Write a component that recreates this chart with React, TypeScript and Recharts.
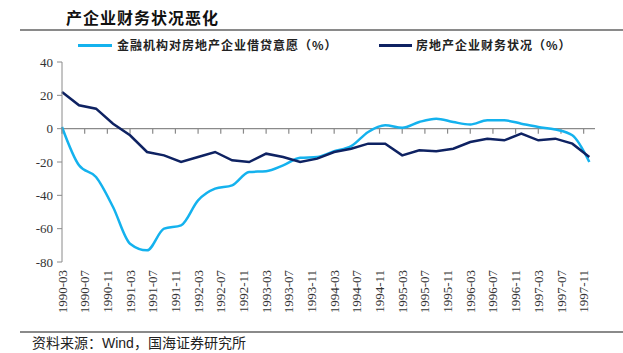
import { LineChart, Line, XAxis, YAxis, ReferenceLine } from 'recharts'

const quarters = [
  '1990-03', '1990-06', '1990-09', '1990-12',
  '1991-03', '1991-06', '1991-09', '1991-12',
  '1992-03', '1992-06', '1992-09', '1992-12',
  '1993-03', '1993-06', '1993-09', '1993-12',
  '1994-03', '1994-06', '1994-09', '1994-12',
  '1995-03', '1995-06', '1995-09', '1995-12',
  '1996-03', '1996-06', '1996-09', '1996-12',
  '1997-03', '1997-06', '1997-09', '1997-12',
]

// 金融机构对房地产企业借贷意愿（%）
const lendingWillingness = [
  1, -22, -29, -47,
  -69, -73, -60, -58,
  -43, -36, -34, -26,
  -25.5, -22, -17.5, -17,
  -13.5, -10.5, -2, 2,
  0.5, 4, 6, 4,
  2.5, 5, 5, 3,
  1, -0.5, -4, -20,
]

// 房地产企业财务状况（%）
const financialCondition = [
  22, 14, 12, 3,
  -4, -14, -16, -20,
  -17, -14, -19, -20,
  -15, -17, -20, -18,
  -14, -12, -9, -9,
  -16, -13, -13.5, -12,
  -8, -6, -7, -3,
  -7, -6, -9, -17,
]

const tickLabels = [
  '1990-03', '1990-07', '1990-11', '1991-03', '1991-07', '1991-11',
  '1992-03', '1992-07', '1992-11', '1993-03', '1993-07', '1993-11',
  '1994-03', '1994-07', '1994-11', '1995-03', '1995-07', '1995-11',
  '1996-03', '1996-07', '1996-11', '1997-03', '1997-07', '1997-11',
]

const yTicks = [-80, -60, -40, -20, 0, 20, 40]

const LIGHT = '#14B2EE'
const DARK = '#0E2262'
const GRAY = '#8a8a8a'
const SERIF = "'Liberation Serif', 'Times New Roman', serif"
const CJK = "'Noto Sans CJK SC', sans-serif"

// months since 1990-03
const monthIndex = (s: string) => {
  const [y, m] = s.split('-').map(Number)
  return (y - 1990) * 12 + (m - 3)
}

const data = quarters.map((q, i) => ({
  m: monthIndex(q),
  lending: lendingWillingness[i],
  finance: financialCondition[i],
}))

const tickMonths = tickLabels.map(monthIndex)

function XTick({ x, y, payload }: any) {
  const label = tickLabels[tickMonths.indexOf(payload.value)] ?? ''
  return (
    <text
      x={x} y={y}
      transform={`rotate(-90, ${x}, ${y})`}
      textAnchor="end" dy="0.35em"
      style={{ fontFamily: SERIF, fontSize: 13 }} fill="#333"
    >
      {label}
    </text>
  )
}

function YTick({ x, y, payload }: any) {
  return (
    <text x={x} y={y} textAnchor="end" dy="0.35em" style={{ fontFamily: SERIF, fontSize: 13 }} fill="#333">
      {payload.value}
    </text>
  )
}

export default function App() {
  return (
    <div style={{ position: 'fixed', left: 0, top: 0, width: 623, height: 353, background: '#fff', overflow: 'hidden' }}>
      <div style={{ position: 'absolute', left: 66, top: 7, fontFamily: CJK, fontSize: 16, fontWeight: 700, letterSpacing: 1, lineHeight: '20px', color: '#111' }}>
        产企业财务状况恶化
      </div>
      <div style={{ position: 'absolute', left: 20, top: 29, width: 603, height: 2, background: GRAY }} />

      {/* legend */}
      <div style={{ position: 'absolute', left: 78, top: 44, width: 34, height: 3, background: LIGHT }} />
      <div style={{ position: 'absolute', left: 117, top: 36, fontFamily: CJK, fontSize: 12, fontWeight: 700, letterSpacing: 1, lineHeight: '18px', color: '#222', whiteSpace: 'nowrap' }}>
        金融机构对房地产企业借贷意愿（%）
      </div>
      <div style={{ position: 'absolute', left: 379, top: 44, width: 33, height: 3, background: DARK }} />
      <div style={{ position: 'absolute', left: 416, top: 36, fontFamily: CJK, fontSize: 12, fontWeight: 700, letterSpacing: 1, lineHeight: '18px', color: '#222', whiteSpace: 'nowrap' }}>
        房地产企业财务状况（%）
      </div>

      <div style={{ position: 'absolute', left: 0, top: 0 }}>
        <LineChart width={623} height={353} data={data} margin={{ top: 62, right: 28, bottom: 31, left: 0 }}>
          <XAxis
            type="number" dataKey="m" domain={[0, 94]} ticks={tickMonths}
            axisLine={false} tickLine={false} tickSize={0} tickMargin={8}
            height={60} interval={0} tick={<XTick />}
          />
          <YAxis
            domain={[-80, 40]} ticks={yTicks} width={62}
            tickSize={5} tickMargin={4}
            axisLine={{ stroke: GRAY }} tickLine={{ stroke: GRAY }}
            tick={<YTick />}
          />
          <ReferenceLine y={0} stroke={GRAY} strokeWidth={1.2} />
          {tickMonths.map(m => (
            <ReferenceLine key={m} segment={[{ x: m, y: 0 }, { x: m, y: -3 }]} stroke={GRAY} strokeWidth={1.2} />
          ))}
          <Line type="monotone" dataKey="lending" stroke={LIGHT} strokeWidth={2.5} dot={false} isAnimationActive={false} />
          <Line type="linear" dataKey="finance" stroke={DARK} strokeWidth={2.5} dot={false} isAnimationActive={false} />
        </LineChart>
      </div>

      <div style={{ position: 'absolute', left: 20, top: 331, width: 603, height: 1.5, background: GRAY }} />
      <div style={{ position: 'absolute', left: 32, top: 335, fontFamily: `'Liberation Sans', ${CJK}`, fontSize: 14, lineHeight: '16px', color: '#222', whiteSpace: 'nowrap' }}>
        资料来源：Wind，国海证券研究所
      </div>
    </div>
  )
}
